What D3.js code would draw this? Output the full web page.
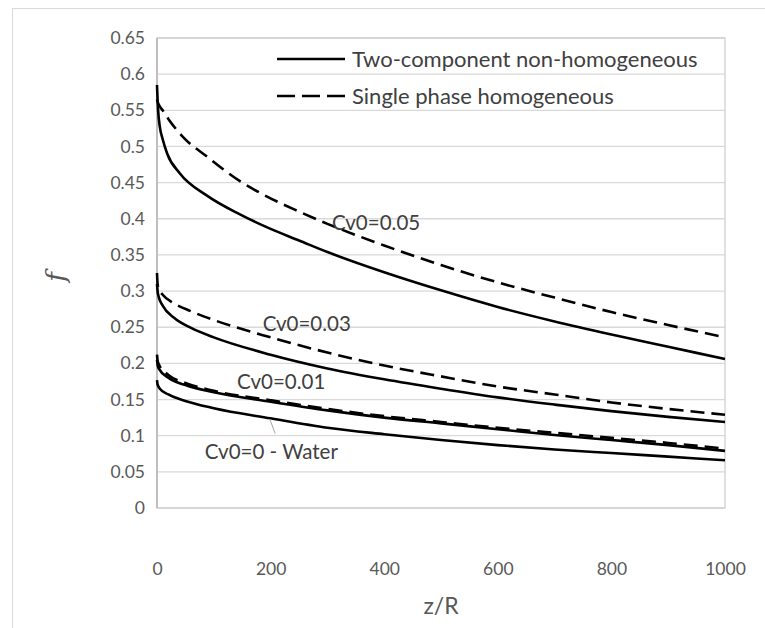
<!DOCTYPE html>
<html>
<head>
<meta charset="utf-8">
<script src="https://cdn.jsdelivr.net/npm/d3@7"></script>
<style>
  body { margin: 0; background: #fff; }
  text { font-family: Lato, "Open Sans", sans-serif; }
</style>
</head>
<body>
<div id="chart"></div>
<script>
// values (z/R, f)
const zCv005 = [0, 1, 2, 5, 10, 18, 40, 88, 146, 200, 250, 300, 400, 500, 600, 700, 800, 900, 1000];
const fCv005Two = [0.585, 0.565, 0.55, 0.527, 0.51, 0.49, 0.463, 0.432, 0.406, 0.386, 0.37, 0.354, 0.326, 0.301, 0.278, 0.258, 0.24, 0.223, 0.206];
const zCv005s = [0, 1, 3, 10, 20, 46, 88, 146, 181, 250, 300, 400, 500, 600, 700, 800, 900, 1000];
const fCv005Single = [0.565, 0.562, 0.558, 0.55, 0.538, 0.513, 0.486, 0.452, 0.436, 0.41, 0.393, 0.363, 0.336, 0.312, 0.291, 0.271, 0.253, 0.236];

const zCv003 = [0, 1, 3, 10, 30, 60, 100, 200, 300, 400, 500, 600, 700, 800, 900, 1000];
const fCv003Two = [0.31, 0.3, 0.292, 0.28, 0.263, 0.249, 0.236, 0.212, 0.193, 0.178, 0.165, 0.153, 0.143, 0.134, 0.126, 0.119];
const fCv003Single = [0.325, 0.31, 0.303, 0.295, 0.283, 0.272, 0.26, 0.236, 0.215, 0.197, 0.182, 0.168, 0.157, 0.146, 0.137, 0.129];

const zCv001 = [0, 1, 3, 20, 50, 100, 200, 300, 400, 500, 600, 700, 800, 900, 1000];
const fCv001Two = [0.205, 0.198, 0.193, 0.18, 0.17, 0.16, 0.147, 0.135, 0.125, 0.117, 0.109, 0.101, 0.094, 0.087, 0.079];
const fCv001Single = [0.212, 0.204, 0.199, 0.184, 0.173, 0.162, 0.149, 0.137, 0.127, 0.119, 0.111, 0.104, 0.097, 0.09, 0.082];

const zWater = [0, 1, 5, 20, 50, 100, 200, 300, 400, 500, 600, 700, 800, 900, 1000];
const fWater = [0.177, 0.171, 0.165, 0.157, 0.148, 0.138, 0.124, 0.111, 0.102, 0.094, 0.087, 0.081, 0.076, 0.071, 0.066];

const yTicks = [0, 0.05, 0.1, 0.15, 0.2, 0.25, 0.3, 0.35, 0.4, 0.45, 0.5, 0.55, 0.6, 0.65];
const xTicks = [0, 200, 400, 600, 800, 1000];
const legendNames = ["Two-component non-homogeneous", "Single phase homogeneous"];

const W = 765, H = 628;
const margin = {top: 38, right: 40, bottom: 120, left: 157},
      width = 725 - margin.left,
      height = 508 - margin.top;

const root = d3.select("#chart").append("svg")
    .attr("width", W).attr("height", H);

// outer chart border
root.append("rect")
    .attr("x", 12.5).attr("y", 8.5)
    .attr("width", W + 20).attr("height", H + 20)
    .attr("fill", "none").attr("stroke", "#d9d9d9");

const svg = root.append("g")
    .attr("transform", `translate(${margin.left}, ${margin.top})`);

const x = d3.scaleLinear().domain([0, 1000]).range([0, width]);
const y = d3.scaleLinear().domain([0, 0.65]).range([height, 0]);

// gridlines
svg.append("g")
    .selectAll("line")
    .data(yTicks)
    .join("line")
    .attr("x1", 0).attr("x2", width)
    .attr("y1", d => y(d)).attr("y2", d => y(d))
    .attr("stroke", "#d9d9d9").attr("stroke-width", 1.3);

// plot area border
svg.append("rect")
    .attr("width", width).attr("height", height)
    .attr("fill", "none").attr("stroke", "#d0d0d0").attr("stroke-width", 1.3);
svg.append("line")
    .attr("x1", 0).attr("x2", 0).attr("y1", 0).attr("y2", height)
    .attr("stroke", "#bfbfbf").attr("stroke-width", 2);

// axes (labels only)
const yAxis = svg.append("g")
    .call(d3.axisLeft(y).tickValues(yTicks).tickSize(0).tickPadding(12).tickFormat(d => String(+d.toFixed(2))));
const xAxis = svg.append("g")
    .attr("transform", `translate(0, ${height})`)
    .call(d3.axisBottom(x).tickValues(xTicks).tickSize(0).tickPadding(55).tickFormat(d3.format("d")));
[yAxis, xAxis].forEach(a => {
    a.select(".domain").remove();
    a.selectAll("text")
        .style("font-family", "Lato, sans-serif")
        .style("font-size", "17.5px")
        .attr("fill", "#595959");
});

// axis titles
svg.append("text")
    .attr("x", width / 2)
    .attr("y", height + 106)
    .attr("text-anchor", "middle")
    .attr("fill", "#595959")
    .style("font-size", "23px")
    .text("z/R");

svg.append("text")
    .attr("transform", `translate(${-92}, ${height / 2 + 4}) rotate(-90)`)
    .attr("text-anchor", "middle")
    .attr("fill", "#595959")
    .style("font-family", "'DejaVu Serif', serif")
    .style("font-style", "italic")
    .style("font-size", "26px")
    .text("f");

// curves
const line = d3.line()
    .x(d => x(d[0]))
    .y(d => y(d[1]))
    .curve(d3.curveMonotoneX);

const series = [
    {z: zCv005, f: fCv005Two, dash: null},
    {z: zCv005s, f: fCv005Single, dash: "14,7"},
    {z: zCv003, f: fCv003Two, dash: null},
    {z: zCv003, f: fCv003Single, dash: "14,7"},
    {z: zCv001, f: fCv001Two, dash: null},
    {z: zCv001, f: fCv001Single, dash: "14,7"},
    {z: zWater, f: fWater, dash: null}
];

svg.append("g")
    .selectAll("path")
    .data(series)
    .join("path")
    .attr("d", d => line(d.z.map((v, i) => [v, d.f[i]])))
    .attr("fill", "none")
    .attr("stroke", "#000")
    .attr("stroke-width", 2.6)
    .attr("stroke-dasharray", d => d.dash);

// curve labels
const labels = [
    {text: "Cv0=0.05", z: 308, f: 0.395},
    {text: "Cv0=0.03", z: 186, f: 0.255},
    {text: "Cv0=0.01", z: 141, f: 0.174},
    {text: "Cv0=0 - Water", z: 84, f: 0.077}
];
svg.append("g")
    .selectAll("text")
    .data(labels)
    .join("text")
    .attr("x", d => x(d.z))
    .attr("y", d => y(d.f))
    .attr("dy", "0.35em")
    .attr("fill", "#404040")
    .style("font-size", "20.5px")
    .text(d => d.text);

// leader line for the water label
svg.append("line")
    .attr("x1", x(199)).attr("y1", y(0.122))
    .attr("x2", x(208)).attr("y2", y(0.103))
    .attr("stroke", "#a6a6a6").attr("stroke-width", 1);

// legend
const legend = svg.append("g")
    .selectAll("g")
    .data(legendNames)
    .join("g")
    .attr("transform", (d, i) => `translate(${277 - margin.left}, ${59 - margin.top + i * 37})`);
legend.append("line")
    .attr("x1", 0).attr("x2", 68)
    .attr("stroke", "#000").attr("stroke-width", 2.6)
    .attr("stroke-dasharray", (d, i) => i ? "18,7" : null);
legend.append("text")
    .attr("x", 75)
    .attr("dy", "0.35em")
    .attr("fill", "#404040")
    .style("font-size", "22px")
    .text(d => d);
</script>
</body>
</html>
